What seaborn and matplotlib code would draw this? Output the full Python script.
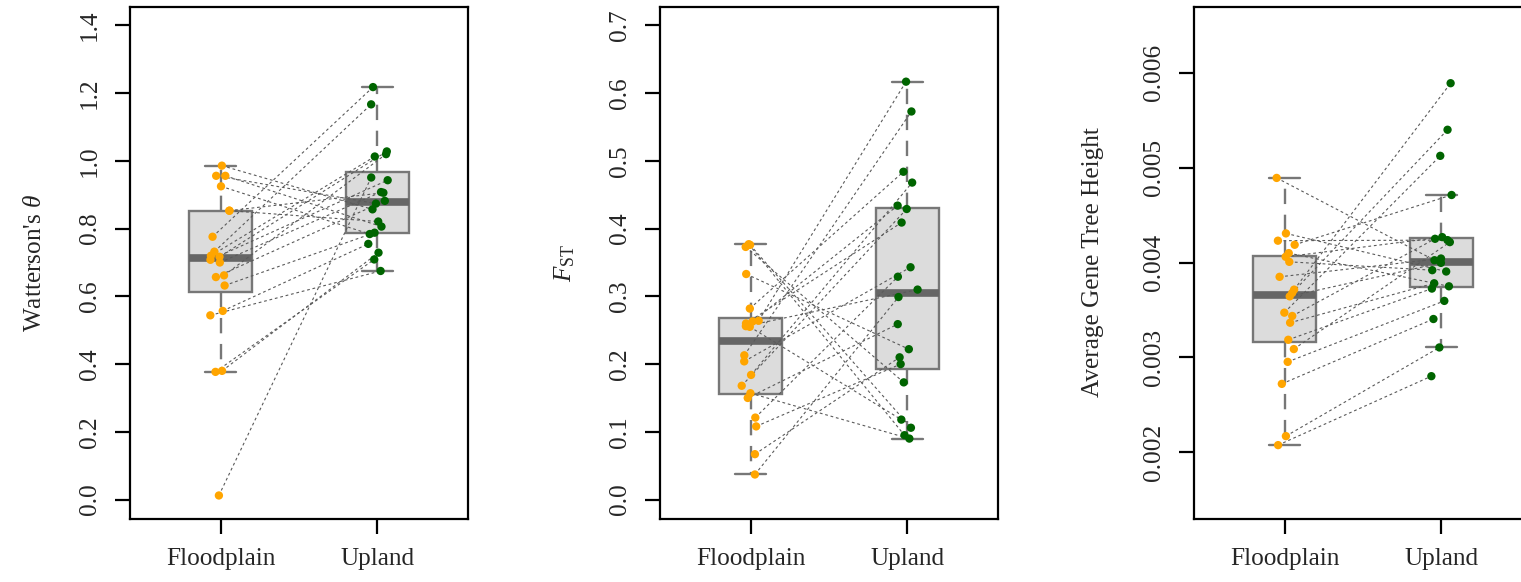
import numpy as np
import pandas as pd
import matplotlib
matplotlib.use("Agg")
import matplotlib.pyplot as plt
import seaborn as sns

# ---------------- data ----------------
groups = ["Floodplain", "Upland"]

theta_floodplain = [0.986, 0.956, 0.956, 0.925, 0.853, 0.853, 0.776, 0.732, 0.720, 0.717,
                    0.708, 0.700, 0.662, 0.657, 0.632, 0.557, 0.544, 0.380, 0.377, 0.012]
theta_upland = [0.857, 0.806, 0.874, 0.784, 0.821, 0.906, 1.218, 1.167, 1.013, 1.028,
                0.943, 0.908, 1.020, 0.882, 0.788, 0.755, 0.675, 0.729, 0.709, 0.951]

fst_floodplain = [0.377, 0.376, 0.373, 0.333, 0.282, 0.264, 0.263, 0.260, 0.256, 0.255,
                  0.213, 0.204, 0.184, 0.168, 0.157, 0.150, 0.121, 0.108, 0.067, 0.037]
fst_upland = [0.095, 0.106, 0.173, 0.222, 0.484, 0.617, 0.434, 0.409, 0.310, 0.118,
              0.573, 0.343, 0.468, 0.429, 0.090, 0.259, 0.329, 0.200, 0.210, 0.299]

height_floodplain = [0.004892, 0.004307, 0.004230, 0.004187, 0.004099, 0.004060, 0.004007,
                     0.003849, 0.003714, 0.003679, 0.003643, 0.003471, 0.003436, 0.003365,
                     0.003185, 0.003087, 0.002952, 0.002720, 0.002169, 0.002074]
height_upland = [0.004024, 0.003905, 0.004236, 0.004712, 0.003749, 0.004268, 0.003919,
                 0.004042, 0.005891, 0.005400, 0.003996, 0.005125, 0.004250, 0.003781,
                 0.003725, 0.004215, 0.003595, 0.003404, 0.003104, 0.002801]

theta_ticks = [0.0, 0.2, 0.4, 0.6, 0.8, 1.0, 1.2, 1.4]
fst_ticks = [0.0, 0.1, 0.2, 0.3, 0.4, 0.5, 0.6, 0.7]
height_ticks = [0.002, 0.003, 0.004, 0.005, 0.006]

ylabels = ["Watterson's $\\theta$", "$F_{\\mathrm{ST}}$", "Average Gene Tree Height"]
point_colors = {"Floodplain": "#FFA500", "Upland": "#006400"}

# ---------------- style ----------------
sns.set_style("ticks")
plt.rcParams["font.family"] = ["Liberation Serif", "DejaVu Serif"]
plt.rcParams["mathtext.fontset"] = "custom"
plt.rcParams["mathtext.rm"] = "Liberation Serif"
plt.rcParams["mathtext.it"] = "Liberation Serif:italic"
plt.rcParams["mathtext.bf"] = "Liberation Serif:bold"

W, H = 1521, 582
fig = plt.figure(figsize=(W / 100, H / 100), dpi=100)

FS = 18.2
panels = [
    (130, theta_floodplain, theta_upland, (-0.056, 1.456), theta_ticks, "{:.1f}", 35),
    (660, fst_floodplain, fst_upland, (-0.028, 0.728), fst_ticks, "{:.1f}", 565),
    (1194, height_floodplain, height_upland, (0.0013, 0.0067), height_ticks, "{:.3f}", 1093),
]
top_px, bot_px, width_px = 6.5, 518.5, 338

np.random.seed(3)
for k, (left, fp, up, ylim, ticks, fmt, lab_x) in enumerate(panels):
    ax = fig.add_axes([left / W, (H - bot_px) / H, width_px / W, (bot_px - top_px) / H])
    df = pd.DataFrame({
        "group": ["Floodplain"] * len(fp) + ["Upland"] * len(up),
        "value": list(fp) + list(up),
    })
    sns.boxplot(data=df, x="group", y="value", order=groups, ax=ax, width=0.4,
                color="#dcdcdc", linecolor="#777777", linewidth=1.7, saturation=1,
                showfliers=False, whis=1.5,
                medianprops={"color": "#666666", "linewidth": 5.5, "solid_capstyle": "butt"},
                whiskerprops={"linestyle": (0, (6.5, 4.5))})
    sns.stripplot(data=df, x="group", y="value", order=groups, hue="group",
                  hue_order=groups, palette=point_colors, jitter=0.07, size=6,
                  linewidth=0, legend=False, ax=ax, zorder=4)
    # pair lines between matched samples, taken from the plotted point positions
    offs = {}
    for coll in ax.collections:
        o = np.asarray(coll.get_offsets())
        if len(o) == 0:
            continue
        offs["Floodplain" if o[:, 0].mean() < 0.5 else "Upland"] = o
    a, b = offs["Floodplain"], offs["Upland"]
    for i in range(min(len(a), len(b))):
        ax.plot([a[i, 0], b[i, 0]], [a[i, 1], b[i, 1]], color="#5a5a5a", lw=0.8,
                ls=(0, (2.5, 2.5)), zorder=3)

    ax.set_xlim(-0.58, 1.58)
    ax.set_ylim(*ylim)
    ax.set_yticks(ticks)
    ax.set_yticklabels([fmt.format(t) for t in ticks])
    ax.set_xlabel("")
    ax.set_ylabel("")
    for s in ax.spines.values():
        s.set_linewidth(1.6)
        s.set_color("black")
    ax.tick_params(axis="both", length=11, width=1.6, color="black", labelsize=FS)
    ax.tick_params(axis="y", pad=10, labelrotation=90)
    ax.tick_params(axis="x", pad=10)
    for lbl in ax.get_yticklabels():
        lbl.set_va("center")
    fig.text(lab_x / W, 1 - (top_px + bot_px) / 2 / H, ylabels[k], rotation=90,
             ha="center", va="center", fontsize=FS)

fig.savefig("out.png", dpi=100)
